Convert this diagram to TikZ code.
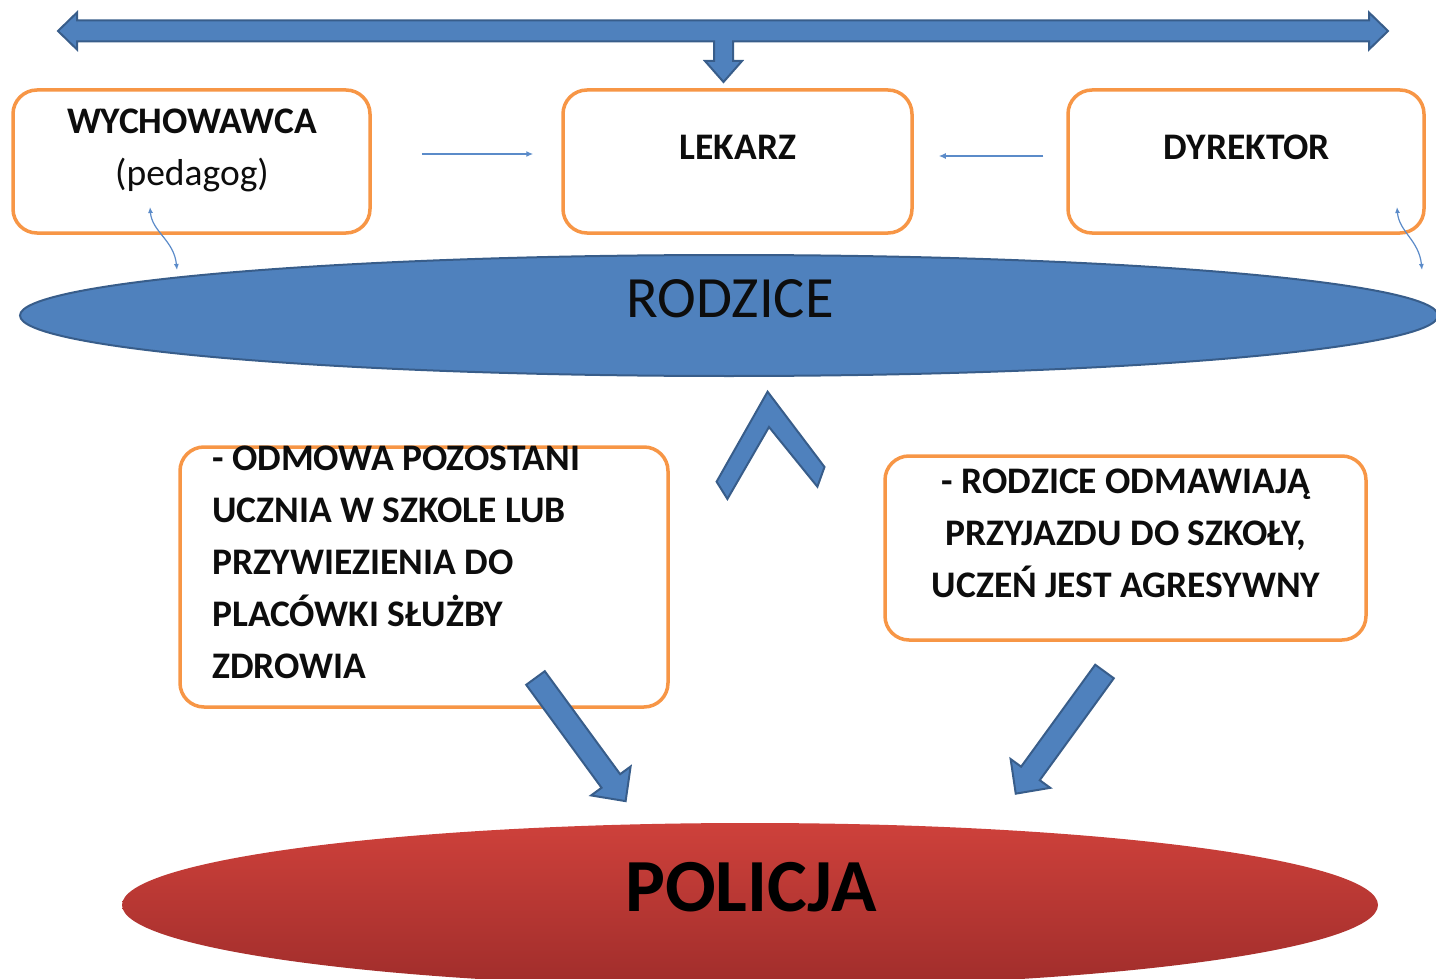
\documentclass[tikz,border=0pt]{standalone}
\usepackage{fontspec}
\setmainfont{Carlito}
\usetikzlibrary{shapes.geometric,arrows.meta}

\definecolor{boxorange}{HTML}{F79646}
\definecolor{arrowblue}{HTML}{4F81BD}
\definecolor{arrowedge}{HTML}{385D8A}
\definecolor{linkblue}{HTML}{5B8BC9}
\definecolor{policjatop}{HTML}{CE413B}
\definecolor{policjabot}{HTML}{A02D2B}
\definecolor{textblack}{HTML}{0D0D0D}

\tikzset{
  box/.style={draw=boxorange, line width=3.5pt, rounded corners=24pt, fill=white, inner sep=0pt},
  boxtext/.style={font=\fontsize{37.5}{52}\selectfont\bfseries, text=textblack, inner sep=0pt},
  link/.style={draw=linkblue, line width=2pt, -{Latex[length=7pt,width=6pt]}},
  wave/.style={draw=linkblue, line width=1.2pt, {Latex[length=6pt,width=5pt]}-{Latex[length=6pt,width=5pt]}},
  block/.style={fill=arrowblue, draw=arrowedge, line width=2pt, line join=miter},
}

\newcommand{\blockarrow}[3]{%
  \draw[block, shift={(#1)}, rotate=#2] (0,-11.5) -- ({#3-25},-11.5) -- ({#3-25},-24.5) -- (#3,0)
    -- ({#3-25},24.5) -- ({#3-25},11.5) -- (0,11.5) -- cycle;}

\begin{document}
\begin{tikzpicture}[x=1pt, y=-1pt]
  \path[use as bounding box, clip] (0,0) rectangle (1436,979);
  % ellipses
  \node[ellipse, fill=arrowblue, draw=arrowedge, line width=2pt, minimum width=1418pt, minimum height=121pt, inner sep=0pt] (rodzice) at (729,315.5) {};
  \node[font=\fontsize{58.5}{60}\selectfont, text=textblack, inner sep=0pt] (rodzicetext) at (730,299) {RODZICE};
  \node[ellipse, top color=policjatop, bottom color=policjabot, minimum width=1256pt, minimum height=164pt, inner sep=0pt] (policja) at (750,905) {};
  \node[font=\fontsize{75}{80}\selectfont\bfseries, text=black, inner sep=0pt] (policjatext) at (751,887) {POLICJA};
  % boxes
  \node[box, minimum width=357pt, minimum height=143pt] (wych) at (191.5,161.5) {};
  \node[box, minimum width=349pt, minimum height=143pt] (lekarz) at (737.5,161.5) {};
  \node[box, minimum width=356pt, minimum height=143pt] (dyrektor) at (1246,161.5) {};
  \node[box, minimum width=488pt, minimum height=260pt] (odmowa) at (424,577) {};
  \node[box, minimum width=481pt, minimum height=184pt] (odmawiaja) at (1125.5,548) {};
  % texts
  \node[boxtext, font=\fontsize{37.5}{52}\selectfont, align=center] (wychtext) at (192,150) {\textbf{WYCHOWAWCA}\\(pedagog)};
  \node[boxtext] (lekarztext) at (738,147) {LEKARZ};
  \node[boxtext] (dyrektortext) at (1247,147) {DYREKTOR};
  \node[boxtext, align=left, anchor=west] (odmowatext) at (212,562) {- ODMOWA POZOSTANI\\UCZNIA W SZKOLE LUB\\PRZYWIEZIENIA DO\\PLACÓWKI SŁUŻBY\\ZDROWIA};
  \node[boxtext, align=center] (odmawiajatext) at (1126,533.5) {- RODZICE ODMAWIAJĄ\\PRZYJAZDU DO SZKOŁY,\\UCZEŃ JEST AGRESYWNY};
  % thin links
  \draw[link] ([xshift=50pt, yshift=7.5pt]wych.east) -- ([xshift=-28pt, yshift=7.5pt]lekarz.west);
  \draw[link] ([xshift=-23pt, yshift=5.5pt]dyrektor.west) -- ([xshift=25pt, yshift=5.5pt]lekarz.east);
  \coordinate (wavel1) at (150,207);
  \coordinate (wavel2) at (177,270);
  \coordinate (waver1) at (1397,207);
  \coordinate (waver2) at (1422,270);
  \draw[wave] (wavel1) .. controls (152,232) and (174,240) .. (wavel2);
  \draw[wave] (waver1) .. controls (1399,232) and (1419,240) .. (waver2);
  % block arrows
  \draw[block] (58,31) -- (77,12.5) -- (77,20.5) -- (1369,20.5) -- (1369,12.5) -- (1388,31) -- (1369,49.5)
    -- (1369,41.5) -- (733,41.5) -- (733,61) -- (742,61) -- (723.5,82) -- (705,61) -- (714,61)
    -- (714,41.5) -- (77,41.5) -- (77,49.5) -- cycle;
  \draw[block] (716.6,481.7) -- (767.6,391.7) -- (824.5,467) -- (817.4,486.7) -- (769,427) -- (727.4,499) -- cycle;
  \blockarrow{535.5,678}{-53.8}{152.6}
  \blockarrow{1104.5,671.5}{-126}{151}
\end{tikzpicture}
\end{document}
